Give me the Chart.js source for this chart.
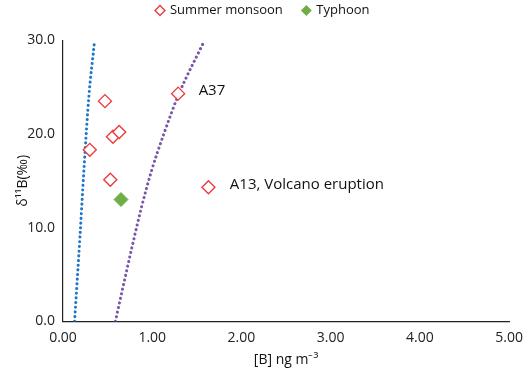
<!DOCTYPE html>
<html>
<head>
<meta charset="utf-8">
<script src="https://cdn.jsdelivr.net/npm/chart.js@4"></script>
<style>
  html, body { margin: 0; padding: 0; background: #fff; }
  #wrap { width: 526px; height: 374px; }
</style>
</head>
<body>
<div id="wrap"><canvas id="chart" width="526" height="374"></canvas></div>
<script>
// sample points
const summerB = [0.30, 0.47, 0.53, 0.56, 0.63, 1.29, 1.63];
const summerDelta = [18.3, 23.5, 15.1, 19.7, 20.2, 24.3, 14.3];
const typhoonB = [0.65];
const typhoonDelta = [13.0];

// dotted mixing curves
const blueCurveB = [0.13, 0.19, 0.24, 0.29, 0.352];
const blueCurveDelta = [0, 9.0, 17.0, 24.0, 29.75];
const purpleCurveB = [0.587, 0.68, 0.775, 0.875, 0.99, 1.13, 1.30, 1.574];
const purpleCurveDelta = [0, 4, 8, 12, 16, 20, 24.3, 29.75];

// point labels (data units)
const noteText = ["A37", "A13, Volcano eruption"];
const noteB = [1.52, 1.87];
const noteDelta = [24.6, 14.6];

const toPts = (xs, ys) => xs.map((x, i) => ({ x: x, y: ys[i] }));
const FONT = "'Open Sans', sans-serif";

const notesPlugin = {
  id: "notes",
  afterDatasetsDraw(chart) {
    const { ctx, scales } = chart;
    ctx.save();
    ctx.font = "15px " + FONT;
    ctx.fillStyle = "#111";
    ctx.textBaseline = "middle";
    ctx.textAlign = "left";
    noteText.forEach((t, i) => {
      ctx.fillText(t, scales.x.getPixelForValue(noteB[i]), scales.y.getPixelForValue(noteDelta[i]));
    });
    ctx.restore();
  }
};

const chart = new Chart(document.getElementById("chart"), {
  type: "scatter",
  data: {
    datasets: [
      {
        label: "Summer monsoon",
        data: toPts(summerB, summerDelta),
        pointStyle: "rectRot",
        pointRadius: 6.5,
        pointHoverRadius: 6.5,
        borderColor: "#EE3B3B",
        backgroundColor: "#ffffff",
        borderWidth: 1.4,
      },
      {
        label: "Typhoon",
        data: toPts(typhoonB, typhoonDelta),
        pointStyle: "rectRot",
        pointRadius: 7,
        pointHoverRadius: 7,
        borderColor: "#70AD47",
        backgroundColor: "#70AD47",
        borderWidth: 1,
      },
      {
        label: "curve1",
        data: toPts(blueCurveB, blueCurveDelta),
        showLine: true,
        pointRadius: 0,
        borderColor: "#1B75C9",
        borderWidth: 3,
        borderDash: [0.1, 4.6],
        borderCapStyle: "round",
        cubicInterpolationMode: "monotone",
        order: 5,
      },
      {
        label: "curve2",
        data: toPts(purpleCurveB, purpleCurveDelta),
        showLine: true,
        pointRadius: 0,
        borderColor: "#7A56A8",
        borderWidth: 3,
        borderDash: [0.1, 4.6],
        borderCapStyle: "round",
        cubicInterpolationMode: "monotone",
        order: 5,
      },
    ],
  },
  options: {
    responsive: false,
    animation: false,
    layout: { padding: { top: -16, right: 0, left: 0, bottom: 2 } },
    plugins: {
      tooltip: { enabled: false },
      legend: {
        position: "top",
        weight: 3000,
        labels: {
          filter: (item) => item.datasetIndex < 2,
          usePointStyle: true,
          boxWidth: 7,
          boxHeight: 7,
          padding: 20,
          color: "#111",
          font: { family: FONT, size: 13 },
        },
      },
      // empty subtitle just opens the gap between legend and plot
      subtitle: {
        display: true,
        text: "",
        font: { size: 1 },
        padding: { top: 0, bottom: 12 },
      },
    },
    scales: {
      x: {
        type: "linear",
        min: 0,
        max: 5,
        border: { color: "#222", width: 1.2 },
        grid: { display: false, drawTicks: true, tickLength: 5, tickColor: "#222" },
        ticks: {
          stepSize: 1,
          color: "#222",
          font: { family: FONT, size: 14 },
          callback: (v) => v.toFixed(2),
          maxRotation: 0,
        },
        title: {
          display: true,
          text: "[B] ng m\u207B\u00B3",
          color: "#111",
          font: { family: FONT, size: 14 },
          padding: { top: 2 },
        },
      },
      y: {
        type: "linear",
        min: 0,
        max: 30,
        afterFit: (scale) => { scale.width = 63; },
        border: { color: "#222", width: 1.2 },
        grid: { display: false, drawTicks: true, tickLength: 5, tickColor: "#222" },
        ticks: {
          stepSize: 10,
          color: "#222",
          font: { family: FONT, size: 14 },
          callback: (v) => v.toFixed(1),
        },
        title: {
          display: true,
          text: "\u03B4\u00B9\u00B9B(\u2030)",
          color: "#111",
          font: { family: FONT, size: 14 },
          padding: { top: 15, bottom: 0 },
        },
      },
    },
  },
  plugins: [notesPlugin],
});
</script>
</body>
</html>
